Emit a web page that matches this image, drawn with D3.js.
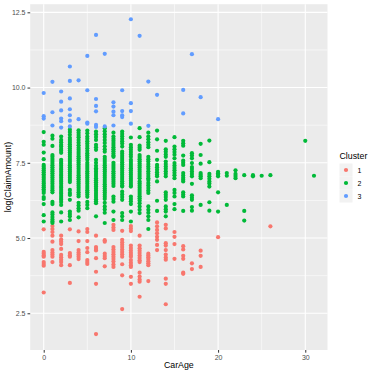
<!DOCTYPE html>
<html>
<head>
<meta charset="utf-8">
<script src="https://cdn.jsdelivr.net/npm/d3@7"></script>
<style>
  body { margin: 0; background: #fff; }
  text { font-family: "Liberation Sans", Arial, sans-serif; }
</style>
</head>
<body>
<div id="chart"></div>
<script>
// cluster 1 (red): [CarAge, log(ClaimAmount)]
const cluster1 = [
  [0,5.29],[0,4.54],[0,4.48],[0,4.42],[0,4.38],[0,4.20],[0,4.14],[0,4.08],[0,3.19],
  [1,5.40],[1,5.30],[1,5.20],[1,5.08],[1,4.88],[1,4.60],[1,4.52],[1,4.45],[1,4.38],[1,4.20],
  [2,5.08],[2,4.95],[2,4.88],[2,4.80],[2,4.64],[2,4.44],[2,4.36],[2,4.28],[2,4.20],[2,4.10],
  [3,5.29],[3,4.50],[3,4.43],[3,4.38],[3,4.10],[3,3.51],
  [4,5.22],[4,4.90],[4,4.60],[4,4.52],[4,4.45],[4,4.38],[4,4.30],
  [5,5.30],[5,5.20],[5,4.90],[5,4.67],[5,4.53],[5,4.27],[5,4.20],[5,4.14],
  [6,5.08],[6,4.70],[6,4.64],[6,4.59],[6,4.33],[6,3.88],[6,3.48],[6,1.81],
  [7,4.93],[7,4.88],[7,4.48],[7,4.40],[7,4.33],[7,4.06],
  [8,5.44],[8,5.35],[8,5.27],[8,4.70],[8,4.62],[8,4.54],[8,4.46],[8,4.38],[8,4.30],[8,4.22],[8,4.12],[8,4.04],
  [9,5.24],[9,4.94],[9,4.86],[9,4.78],[9,4.70],[9,4.62],[9,4.54],[9,4.46],[9,4.38],[9,4.13],[9,3.76],[9,2.64],
  [10,5.40],[10,5.32],[10,5.23],[10,4.75],[10,4.67],[10,4.59],[10,4.51],[10,4.44],[10,4.38],[10,4.27],[10,4.18],[10,4.10],[10,4.04],[10,3.71],[10,3.48],
  [11,5.08],[11,4.75],[11,4.66],[11,4.58],[11,4.50],[11,4.42],[11,4.34],[11,4.26],[11,4.20],[11,3.85],[11,3.72],[11,3.62],[11,3.55],[11,3.05],
  [12,4.48],[12,4.42],[12,4.36],[12,4.30],[12,4.23],[12,4.16],[12,4.10],[12,3.57],
  [13,5.52],[13,5.39],[13,5.27],[13,5.16],[13,5.04],[13,4.94],[13,4.77],[13,4.60],
  [14,5.44],[14,5.32],[14,4.83],[14,4.75],[14,4.60],[14,4.45],[14,4.35],[14,4.28],[14,3.65],[14,3.48],[14,2.80],
  [15,5.20],[15,5.04],[15,4.80],[15,4.31],
  [16,4.73],[16,4.62],[16,4.41],[16,4.31],[16,3.85],[16,3.81],
  [17,4.16],[17,3.97],
  [18,4.58],[18,4.41],[18,4.04],
  [20,5.03],
  [26,5.39]
];

// cluster 2 (green)
const cluster2 = [
  [0,8.52],[0,8.20],[0,8.10],[0,7.84],[0,7.62],[0,7.43],[0,7.37],[0,7.31],[0,7.25],[0,7.19],[0,7.12],[0,7.06],[0,7.00],[0,6.94],[0,6.87],[0,6.81],[0,6.75],[0,6.69],[0,6.62],[0,6.56],[0,6.50],[0,6.36],[0,6.30],[0,6.13],[0,5.76],[0,5.55],
  [1,8.40],[1,8.30],[1,8.06],[1,7.76],[1,7.70],[1,7.63],[1,7.56],[1,7.49],[1,7.42],[1,7.35],[1,7.28],[1,7.22],[1,7.15],[1,7.08],[1,7.01],[1,6.94],[1,6.87],[1,6.80],[1,6.73],[1,6.66],[1,6.59],[1,6.52],[1,6.20],[1,6.13],[1,5.85],[1,5.78],[1,5.70],[1,5.62],[1,5.55],[1,5.50],
  [2,8.37],[2,8.26],[2,8.18],[2,8.10],[2,8.04],[2,7.96],[2,7.90],[2,7.83],[2,7.60],[2,7.53],[2,7.47],[2,7.40],[2,7.33],[2,7.27],[2,7.20],[2,7.13],[2,7.07],[2,7.00],[2,6.93],[2,6.87],[2,6.80],[2,6.73],[2,6.67],[2,6.60],[2,6.53],[2,6.47],[2,6.40],[2,6.33],[2,6.27],[2,6.20],[2,6.10],[2,5.85],[2,5.55],
  [3,8.60],[3,8.52],[3,8.43],[3,8.33],[3,8.26],[3,8.19],[3,8.12],[3,8.05],[3,7.98],[3,7.91],[3,7.84],[3,7.77],[3,7.70],[3,7.63],[3,7.56],[3,7.49],[3,7.42],[3,7.35],[3,7.28],[3,7.21],[3,7.14],[3,7.07],[3,7.00],[3,6.93],[3,6.86],[3,6.60],[3,6.50],[3,6.43],[3,6.27],[3,5.88],[3,5.80],[3,5.72],[3,5.60],
  [4,8.58],[4,8.50],[4,8.42],[4,8.35],[4,8.26],[4,8.17],[4,8.08],[4,8.00],[4,7.93],[4,7.86],[4,7.79],[4,7.72],[4,7.65],[4,7.58],[4,7.51],[4,7.44],[4,7.37],[4,7.30],[4,7.23],[4,7.16],[4,7.09],[4,7.02],[4,6.95],[4,6.88],[4,6.81],[4,6.74],[4,6.67],[4,6.60],[4,6.52],[4,6.45],[4,6.38],[4,6.17],[4,6.08],[4,5.99],[4,5.91],[4,5.69],
  [5,8.57],[5,8.48],[5,8.37],[5,8.30],[5,8.22],[5,8.14],[5,8.06],[5,7.98],[5,7.90],[5,7.82],[5,7.75],[5,7.68],[5,7.60],[5,7.50],[5,7.43],[5,7.36],[5,7.29],[5,7.22],[5,7.15],[5,7.08],[5,7.01],[5,6.94],[5,6.87],[5,6.80],[5,6.73],[5,6.66],[5,6.59],[5,6.52],[5,6.45],[5,6.37],[5,6.20],[5,6.10],[5,5.99],
  [6,8.54],[6,8.45],[6,8.36],[6,8.26],[6,8.10],[6,8.02],[6,7.93],[6,7.60],[6,7.50],[6,7.40],[6,7.32],[6,7.27],[6,7.20],[6,7.13],[6,7.06],[6,6.99],[6,6.92],[6,6.85],[6,6.78],[6,6.71],[6,6.64],[6,6.57],[6,6.50],[6,6.43],[6,6.36],[6,6.29],[6,6.22],[6,6.16],[6,5.72],
  [7,8.65],[7,8.55],[7,8.45],[7,8.36],[7,8.26],[7,8.16],[7,8.05],[7,7.95],[7,7.87],[7,7.70],[7,7.63],[7,7.56],[7,7.49],[7,7.42],[7,7.35],[7,7.28],[7,7.21],[7,7.14],[7,7.07],[7,7.00],[7,6.93],[7,6.86],[7,6.79],[7,6.72],[7,6.65],[7,6.58],[7,6.51],[7,6.44],[7,6.37],[7,6.30],[7,6.17],[7,6.05],[7,5.95],[7,5.84],[7,5.50],
  [8,8.50],[8,8.37],[8,8.30],[8,8.23],[8,8.16],[8,8.09],[8,8.02],[8,7.95],[8,7.88],[8,7.81],[8,7.74],[8,7.70],[8,7.50],[8,7.43],[8,7.36],[8,7.29],[8,7.22],[8,7.15],[8,7.08],[8,7.01],[8,6.94],[8,6.87],[8,6.80],[8,6.73],[8,6.38],[8,6.30],[8,6.21],[8,5.88],[8,5.60],
  [9,8.54],[9,8.46],[9,8.38],[9,8.30],[9,8.22],[9,8.14],[9,8.04],[9,7.87],[9,7.80],[9,7.73],[9,7.66],[9,7.59],[9,7.52],[9,7.45],[9,7.38],[9,7.31],[9,7.24],[9,7.17],[9,7.10],[9,7.03],[9,6.96],[9,6.89],[9,6.82],[9,6.75],[9,6.71],[9,6.54],[9,6.45],[9,6.36],[9,6.27],[9,5.83],[9,5.72],[9,5.60],
  [10,8.34],[10,8.10],[10,8.02],[10,7.94],[10,7.86],[10,7.78],[10,7.70],[10,7.60],[10,7.53],[10,7.46],[10,7.39],[10,7.32],[10,7.25],[10,7.18],[10,7.11],[10,7.04],[10,6.97],[10,6.90],[10,6.83],[10,6.76],[10,6.71],[10,6.38],[10,6.30],[10,6.22],[10,6.13],[10,5.88],[10,5.55],
  [11,8.65],[11,8.35],[11,8.07],[11,8.00],[11,7.93],[11,7.76],[11,7.69],[11,7.62],[11,7.55],[11,7.48],[11,7.41],[11,7.34],[11,7.27],[11,7.20],[11,7.13],[11,7.06],[11,6.99],[11,6.88],[11,6.81],[11,6.74],[11,6.67],[11,6.60],[11,6.53],[11,6.46],[11,6.39],[11,6.32],[11,6.25],[11,6.16],[11,6.05],[11,5.94],[11,5.83],
  [12,8.50],[12,8.37],[12,8.28],[12,8.18],[12,8.10],[12,8.02],[12,7.70],[12,7.62],[12,7.54],[12,7.46],[12,7.38],[12,7.30],[12,7.22],[12,7.14],[12,7.06],[12,6.99],[12,6.93],[12,6.83],[12,6.75],[12,6.66],[12,6.58],[12,6.50],[12,6.05],[12,5.94],[12,5.84],[12,5.72],[12,5.60],[12,5.30],
  [13,8.57],[13,8.28],[13,7.90],[13,7.60],[13,7.43],[13,7.35],[13,7.27],[13,7.19],[13,7.11],[13,7.05],[13,6.88],[13,6.24],[13,5.90],
  [14,8.23],[14,7.95],[14,7.87],[14,7.78],[14,7.70],[14,7.54],[14,7.46],[14,7.38],[14,7.30],[14,7.22],[14,7.14],[14,7.05],[14,6.52],[14,6.44],[14,6.36],[14,6.27],[14,6.05],[14,5.96],[14,5.88],[14,5.72],
  [15,8.35],[15,8.04],[15,7.95],[15,7.86],[15,7.77],[15,7.65],[15,7.49],[15,7.41],[15,7.33],[15,7.25],[15,7.17],[15,7.09],[15,6.99],[15,6.60],[15,6.50],[15,6.38],[15,6.13],[15,5.96],
  [16,8.23],[16,8.15],[16,8.07],[16,7.74],[16,7.57],[16,7.50],[16,7.43],[16,7.16],[16,7.08],[16,7.00],[16,6.94],[16,6.88],[16,6.52],[16,6.45],[16,6.38],[16,5.90],
  [17,7.82],[17,7.74],[17,7.65],[17,7.49],[17,7.36],[17,7.29],[17,7.21],[17,7.13],[17,7.05],[17,6.80],[17,6.42],[17,6.34],[17,6.27],[17,6.03],[17,5.91],
  [18,8.13],[18,7.76],[18,7.47],[18,7.16],[18,7.10],[18,7.05],[18,6.99],[18,6.10],
  [19,8.24],[19,7.52],[19,7.13],[19,7.05],[19,6.97],[19,6.88],[19,6.81],[19,6.71],[19,6.19],[19,5.91],
  [20,7.20],[20,7.15],[20,7.10],[20,7.05],[20,6.52],[20,5.88],
  [21,7.16],[21,7.07],[21,6.10],
  [22,7.25],[22,7.13],[22,7.06],[22,6.99],
  [23,7.09],[23,5.90],[23,5.58],
  [24,7.09],[24,7.05],
  [25,7.07],
  [26,7.09],
  [30,8.23],
  [31,7.07]
];

// cluster 3 (blue)
const cluster3 = [
  [0,9.82],[0,9.05],[0,8.97],
  [1,10.19],[1,9.18],[1,8.74],
  [2,9.87],[2,9.53],[2,9.24],[2,8.97],[2,8.88],[2,8.67],
  [3,10.70],[3,10.22],[3,9.64],[3,9.28],[3,9.08],[3,8.90],[3,8.71],
  [4,10.24],[4,8.95],
  [5,11.05],[5,9.91],[5,8.84],[5,8.80],
  [6,11.75],[6,9.62],[6,9.39],[6,9.21],[6,8.76],[6,8.69],
  [7,11.12],[7,8.71],
  [8,9.51],[8,9.37],[8,9.20],[8,9.08],[8,8.74],
  [9,9.91],[9,9.22],[9,9.08],[9,9.02],
  [10,12.27],[10,9.48],[10,9.22],[10,8.80],
  [11,11.72],
  [12,10.20],[12,8.73],
  [13,9.76],
  [16,9.92],[16,9.14],
  [17,11.11],
  [18,9.68],
  [20,8.95]
];

const clusterNames = ["1", "2", "3"];
const clusterColors = ["#F8766D", "#00BA38", "#619CFF"];
const xTicks = [0, 10, 20, 30];
const xMinor = [5, 15, 25];
const yTicks = [2.5, 5.0, 7.5, 10.0, 12.5];
const yMinor = [3.75, 6.25, 8.75, 11.25];

const width = 374, height = 374;
const panel = { left: 30.2, right: 327.5, top: 4.2, bottom: 350 };

const svg = d3.select("#chart")
    .append("svg")
    .attr("width", width)
    .attr("height", height);

const x = d3.scaleLinear()
    .domain([-1.55, 32.55])
    .range([panel.left, panel.right]);

const y = d3.scaleLinear()
    .domain([1.28, 12.77])
    .range([panel.bottom, panel.top]);

// panel background
svg.append("rect")
    .attr("x", panel.left)
    .attr("y", panel.top)
    .attr("width", panel.right - panel.left)
    .attr("height", panel.bottom - panel.top)
    .attr("fill", "#EBEBEB");

// grid lines
const grid = svg.append("g");
grid.selectAll(".xminor").data(xMinor).enter().append("line")
    .attr("x1", d => x(d)).attr("x2", d => x(d))
    .attr("y1", panel.top).attr("y2", panel.bottom)
    .attr("stroke", "#fff").attr("stroke-width", 0.55);
grid.selectAll(".yminor").data(yMinor).enter().append("line")
    .attr("y1", d => y(d)).attr("y2", d => y(d))
    .attr("x1", panel.left).attr("x2", panel.right)
    .attr("stroke", "#fff").attr("stroke-width", 0.55);
grid.selectAll(".xmajor").data(xTicks).enter().append("line")
    .attr("x1", d => x(d)).attr("x2", d => x(d))
    .attr("y1", panel.top).attr("y2", panel.bottom)
    .attr("stroke", "#fff").attr("stroke-width", 1.1);
grid.selectAll(".ymajor").data(yTicks).enter().append("line")
    .attr("y1", d => y(d)).attr("y2", d => y(d))
    .attr("x1", panel.left).attr("x2", panel.right)
    .attr("stroke", "#fff").attr("stroke-width", 1.1);

// points
[cluster1, cluster2, cluster3].forEach((pts, i) => {
    svg.append("g").selectAll("circle")
        .data(pts)
        .enter()
        .append("circle")
        .attr("cx", d => x(d[0]))
        .attr("cy", d => y(d[1]))
        .attr("r", 2.1)
        .attr("fill", clusterColors[i]);
});

// axes
const xAxis = svg.append("g")
    .attr("transform", `translate(0,${panel.bottom})`)
    .call(d3.axisBottom(x).tickValues(xTicks).tickSize(2.7).tickPadding(2).tickFormat(d3.format("d")));
const yAxis = svg.append("g")
    .attr("transform", `translate(${panel.left},0)`)
    .call(d3.axisLeft(y).tickValues(yTicks).tickSize(2.7).tickPadding(2).tickFormat(d3.format(".1f")));

[xAxis, yAxis].forEach(a => {
    a.select(".domain").remove();
    a.selectAll(".tick line").attr("stroke", "#333333").attr("stroke-width", 1);
    a.selectAll(".tick text")
        .attr("fill", "#4D4D4D")
        .style("font-size", "7px")
        .style("font-family", "'Liberation Sans', Arial, sans-serif");
});

// axis titles
svg.append("text")
    .attr("x", (panel.left + panel.right) / 2)
    .attr("y", 368)
    .attr("text-anchor", "middle")
    .style("font-size", "8.8px")
    .attr("fill", "#000")
    .text("CarAge");

svg.append("text")
    .attr("transform", `translate(10.5,${(panel.top + panel.bottom) / 2}) rotate(-90)`)
    .attr("text-anchor", "middle")
    .style("font-size", "8.8px")
    .attr("fill", "#000")
    .text("log(ClaimAmount)");

// legend
const legend = svg.append("g").attr("transform", "translate(339.5,0)");
legend.append("text")
    .attr("x", 0)
    .attr("y", 159)
    .style("font-size", "8.8px")
    .attr("fill", "#000")
    .text("Cluster");

const keys = legend.selectAll(".key")
    .data(clusterNames)
    .enter()
    .append("g")
    .attr("transform", (d, i) => `translate(0,${163.5 + i * 13})`);

keys.append("rect")
    .attr("width", 13)
    .attr("height", 13)
    .attr("fill", "#F2F2F2");
keys.append("circle")
    .attr("cx", 6.5)
    .attr("cy", 6.5)
    .attr("r", 2.1)
    .attr("fill", (d, i) => clusterColors[i]);
keys.append("text")
    .attr("x", 18)
    .attr("y", 9)
    .style("font-size", "7px")
    .attr("fill", "#000")
    .text(d => d);
</script>
</body>
</html>
